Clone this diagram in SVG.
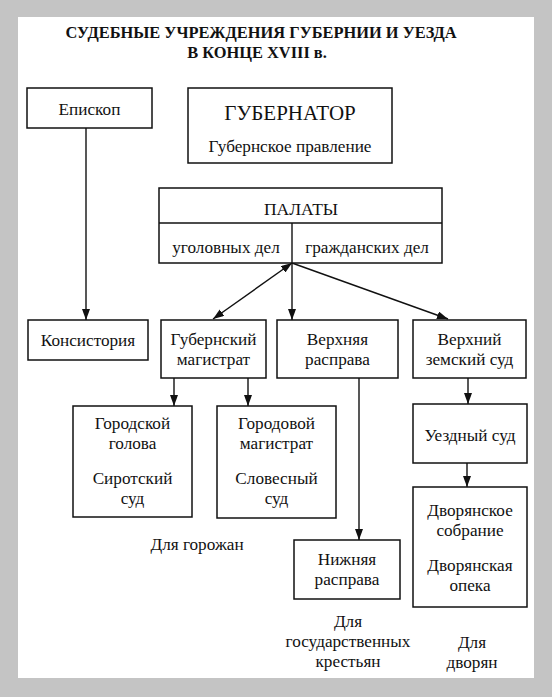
<svg xmlns="http://www.w3.org/2000/svg" width="552" height="697" viewBox="0 0 552 697">
<defs>
<style>
.box{fill:#fff;stroke:#111;stroke-width:1.5}
.t{font-family:'Liberation Serif','DejaVu Serif',serif;font-size:17.2px;fill:#111;text-anchor:middle}
.title{font-family:'Liberation Serif','DejaVu Serif',serif;font-size:16.4px;font-weight:bold;fill:#111;text-anchor:middle}
.gov{font-size:21px}
.pal{font-size:17.5px}
.ln{stroke:#111;stroke-width:1.4;fill:none}
</style>
<marker id="ah" viewBox="0 0 11 8" refX="11" refY="4" markerWidth="11" markerHeight="8" markerUnits="userSpaceOnUse" orient="auto-start-reverse">
<path d="M0,0 L11,4 L0,8 Z" fill="#111"/>
</marker>
</defs>
<rect x="0" y="0" width="552" height="697" fill="#c4c4c4"/>
<rect x="18" y="17" width="516" height="661" fill="#fff"/>
<g id="title">
<text class="title" x="261" y="38">СУДЕБНЫЕ УЧРЕЖДЕНИЯ ГУБЕРНИИ И УЕЗДА</text>
<text class="title" x="257" y="58">В КОНЦЕ XVIII в.</text>
</g>
<g id="connectors">
<line class="ln" x1="86" y1="128" x2="86" y2="320" marker-end="url(#ah)"/>
<line class="ln" x1="292" y1="263" x2="213" y2="319" marker-start="url(#ah)" marker-end="url(#ah)"/>
<line class="ln" x1="292" y1="263" x2="292" y2="320" marker-end="url(#ah)"/>
<line class="ln" x1="292" y1="263" x2="448" y2="319" marker-end="url(#ah)"/>
<line class="ln" x1="174" y1="378" x2="174" y2="406" marker-end="url(#ah)"/>
<line class="ln" x1="248" y1="378" x2="248" y2="406" marker-end="url(#ah)"/>
<line class="ln" x1="359" y1="378" x2="359" y2="540" marker-end="url(#ah)"/>
<line class="ln" x1="468" y1="378" x2="468" y2="404" marker-end="url(#ah)"/>
<line class="ln" x1="467" y1="463" x2="467" y2="487" marker-end="url(#ah)"/>
</g>
<g id="episkop">
<rect class="box" x="27" y="88" width="125" height="40"/>
<text class="t" x="89.5" y="115">Епископ</text>
</g>
<g id="gubernator">
<rect class="box" x="188" y="88" width="204" height="75"/>
<text class="t gov" x="290" y="120">ГУБЕРНАТОР</text>
<text class="t" x="290" y="152">Губернское правление</text>
</g>
<g id="palaty">
<rect class="box" x="159" y="188" width="283" height="75"/>
<line class="ln" x1="159" y1="223" x2="442" y2="223"/>
<line class="ln" x1="292" y1="223" x2="292" y2="263"/>
<text class="t pal" x="301" y="215">ПАЛАТЫ</text>
<text class="t" x="226" y="253">уголовных дел</text>
<text class="t" x="367" y="253">гражданских дел</text>
</g>
<g id="konsistoriya">
<rect class="box" x="28" y="320" width="120" height="40"/>
<text class="t" x="88" y="346">Консистория</text>
</g>
<g id="gub-magistrat">
<rect class="box" x="161" y="320" width="105" height="58"/>
<text class="t" x="213.5" y="345">Губернский</text>
<text class="t" x="213.5" y="365">магистрат</text>
</g>
<g id="verkhnyaya-rasprava">
<rect class="box" x="277" y="320" width="121" height="58"/>
<text class="t" x="337.5" y="345">Верхняя</text>
<text class="t" x="337.5" y="365">расправа</text>
</g>
<g id="verkhniy-zemskiy-sud">
<rect class="box" x="413" y="320" width="113" height="58"/>
<text class="t" x="469.5" y="345">Верхний</text>
<text class="t" x="469.5" y="365">земский суд</text>
</g>
<g id="gorodskoy-golova">
<rect class="box" x="73" y="406" width="119" height="111"/>
<text class="t" x="132.5" y="429">Городской</text>
<text class="t" x="132.5" y="449">голова</text>
<text class="t" x="132.5" y="484">Сиротский</text>
<text class="t" x="132.5" y="504">суд</text>
</g>
<g id="gorodovoy-magistrat">
<rect class="box" x="217" y="406" width="119" height="112"/>
<text class="t" x="276.5" y="429">Городовой</text>
<text class="t" x="276.5" y="449">магистрат</text>
<text class="t" x="276.5" y="484">Словесный</text>
<text class="t" x="276.5" y="504">суд</text>
</g>
<g id="uezdny-sud">
<rect class="box" x="413" y="404" width="114" height="59"/>
<text class="t" x="470" y="441">Уездный суд</text>
</g>
<g id="dvoryanskoe-sobranie">
<rect class="box" x="413" y="487" width="114" height="120"/>
<text class="t" x="470" y="516">Дворянское</text>
<text class="t" x="470" y="536">собрание</text>
<text class="t" x="470" y="571">Дворянская</text>
<text class="t" x="470" y="591">опека</text>
</g>
<g id="nizhnyaya-rasprava">
<rect class="box" x="294" y="540" width="106" height="59"/>
<text class="t" x="347" y="565">Нижняя</text>
<text class="t" x="347" y="585">расправа</text>
</g>
<g id="labels">
<text class="t" x="197" y="550">Для горожан</text>
<text class="t" x="348" y="627">Для</text>
<text class="t" x="348" y="647">государственных</text>
<text class="t" x="348" y="667">крестьян</text>
<text class="t" x="472" y="648">Для</text>
<text class="t" x="472" y="668">дворян</text>
</g>
</svg>
